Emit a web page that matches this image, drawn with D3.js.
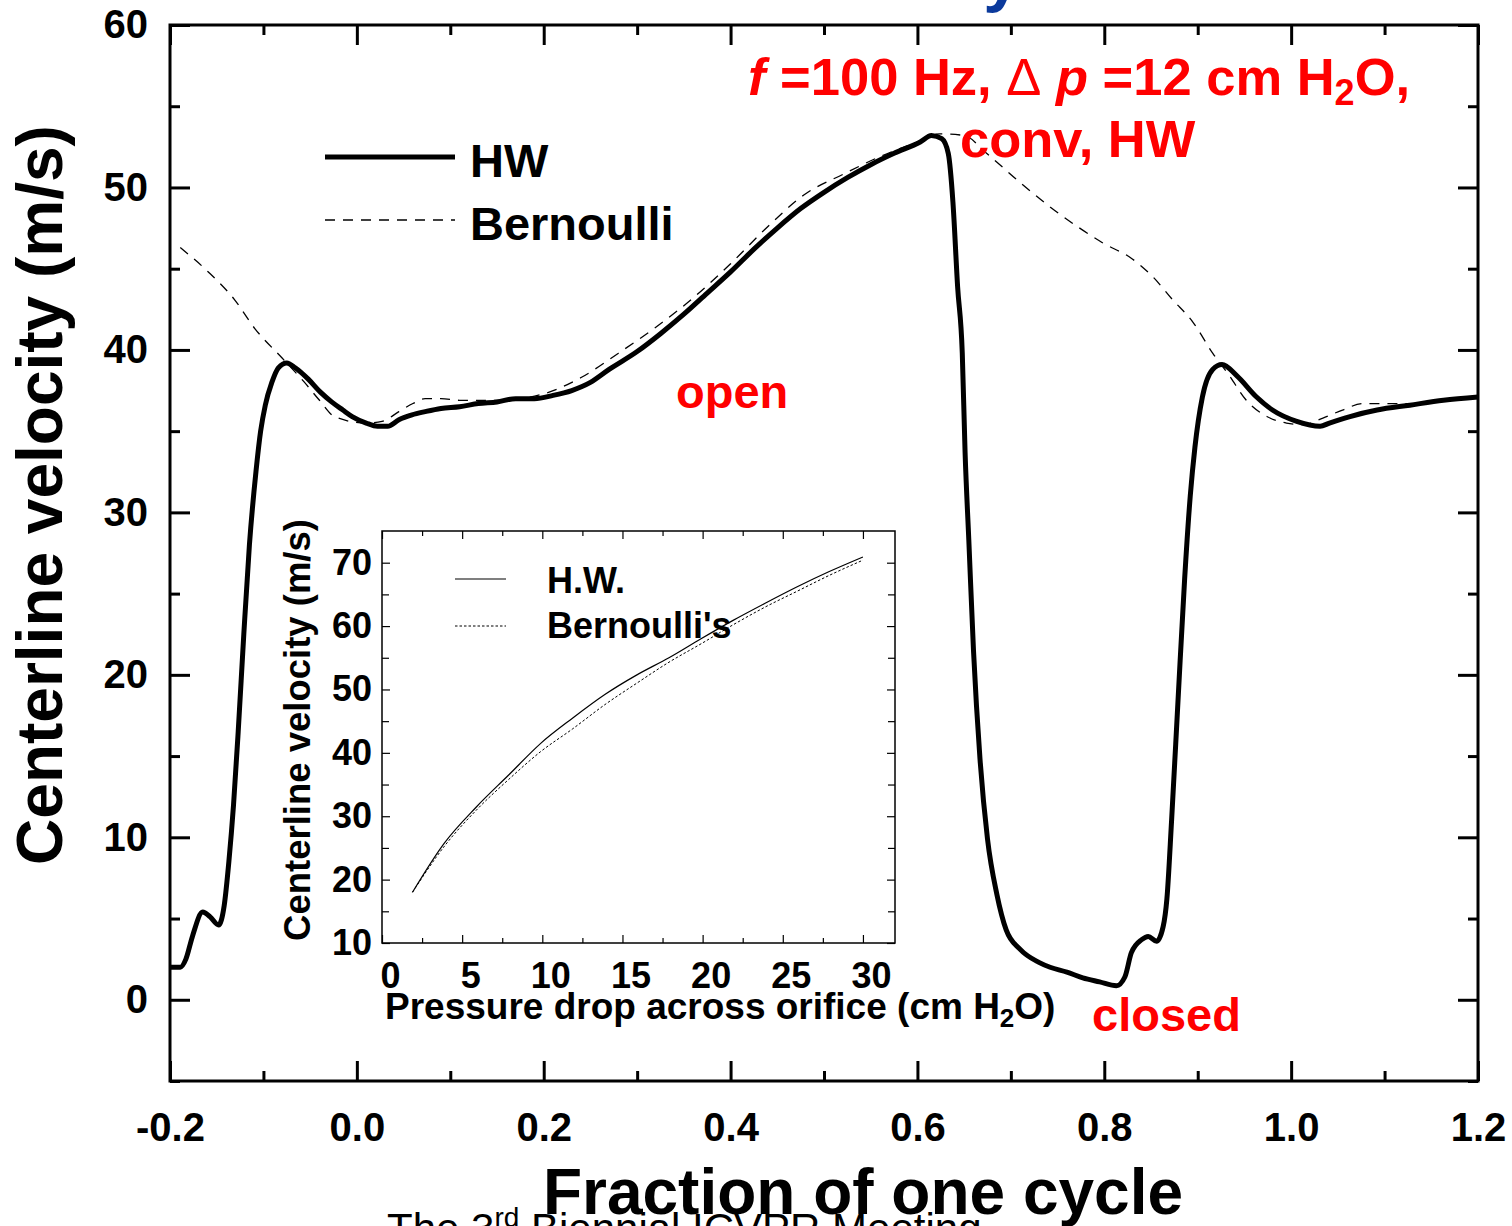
<!DOCTYPE html>
<html lang="en">
<head>
  <meta charset="UTF-8">
  <title>Centerline velocity</title>
  <script src="https://d3js.org/d3.v7.min.js"></script>
  <style>
    body { margin: 0; background: #fff; }
    svg { display: block; font-family: "Liberation Sans", Arial, sans-serif; }
    .bold { font-weight: bold; }
  </style>
</head>
<body>
<div class="main"></div>
<script>
  // main chart: fraction of cycle vs centerline velocity (m/s)
  var hwPoints = [
    [-0.2, 2.0], [-0.189, 2.0], [-0.183, 2.5], [-0.176, 3.9], [-0.165, 5.4], [-0.157, 5.1],
    [-0.148, 4.6], [-0.142, 5.8], [-0.137, 8.5], [-0.132, 12.0], [-0.127, 16.5], [-0.121, 22.5],
    [-0.115, 28.0], [-0.108, 32.5], [-0.103, 35.0], [-0.098, 36.6], [-0.091, 38.0], [-0.084, 38.9],
    [-0.075, 39.2], [-0.066, 38.9], [-0.052, 38.2], [-0.039, 37.4], [-0.027, 36.8], [-0.015, 36.3],
    [-0.005, 35.9], [0.010, 35.5], [0.022, 35.3], [0.033, 35.3], [0.045, 35.7], [0.059, 36.0],
    [0.073, 36.2], [0.09, 36.4], [0.11, 36.5], [0.13, 36.7], [0.15, 36.8], [0.17, 37.0],
    [0.19, 37.0], [0.21, 37.2], [0.23, 37.5], [0.25, 38.0], [0.27, 38.8], [0.30, 39.9],
    [0.325, 41.0], [0.35, 42.2], [0.375, 43.5], [0.40, 44.8], [0.425, 46.2], [0.45, 47.5],
    [0.475, 48.7], [0.50, 49.7], [0.525, 50.6], [0.55, 51.4], [0.575, 52.1], [0.603, 52.8],
    [0.615, 53.2], [0.626, 53.0], [0.633, 52.1], [0.638, 49.1], [0.643, 43.9], [0.648, 39.8],
    [0.651, 33.7], [0.655, 28.3], [0.660, 21.5], [0.667, 14.8], [0.675, 9.9], [0.685, 6.5],
    [0.695, 4.3], [0.710, 3.1], [0.730, 2.3], [0.742, 2.0], [0.760, 1.7], [0.777, 1.35],
    [0.795, 1.1], [0.813, 0.86], [0.822, 1.4], [0.829, 2.9], [0.840, 3.7], [0.847, 3.9],
    [0.856, 3.6], [0.863, 4.5], [0.867, 6.2], [0.872, 11.0], [0.879, 18.5], [0.886, 25.9],
    [0.892, 31.0], [0.897, 34.0], [0.905, 37.1], [0.916, 38.8], [0.926, 39.1], [0.942, 38.4],
    [0.963, 37.1], [0.980, 36.3], [1.006, 35.6], [1.031, 35.3], [1.041, 35.5], [1.063, 35.9],
    [1.092, 36.3], [1.127, 36.6], [1.163, 36.9], [1.2, 37.1]
  ];

  var bernoulliPoints = [
    [-0.189, 46.3], [-0.159, 44.8], [-0.131, 43.1], [-0.109, 41.3], [-0.080, 39.5], [-0.056, 38.0],
    [-0.040, 36.9], [-0.024, 35.9], [0.009, 35.5], [0.027, 35.6], [0.045, 36.2], [0.060, 36.7],
    [0.073, 37.0], [0.09, 37.0], [0.11, 36.9], [0.15, 36.9], [0.20, 37.3], [0.24, 38.3],
    [0.28, 39.8], [0.32, 41.4], [0.36, 43.2], [0.40, 45.3], [0.44, 47.6], [0.48, 49.6],
    [0.52, 50.8], [0.56, 51.9], [0.60, 52.8], [0.624, 53.3], [0.65, 53.2], [0.674, 52.1],
    [0.710, 50.3], [0.742, 48.8], [0.771, 47.6], [0.798, 46.6], [0.830, 45.6], [0.852, 44.5],
    [0.873, 43.1], [0.895, 41.7], [0.916, 39.8], [0.934, 38.4], [0.952, 36.9], [0.974, 35.9],
    [0.995, 35.5], [1.013, 35.4], [1.034, 35.8], [1.055, 36.3], [1.077, 36.7], [1.095, 36.7],
    [1.13, 36.7], [1.163, 36.9], [1.2, 37.2]
  ];

  var xMajorTicks = [-0.2, 0.0, 0.2, 0.4, 0.6, 0.8, 1.0, 1.2];
  var xMinorTicks = [-0.1, 0.1, 0.3, 0.5, 0.7, 0.9, 1.1];
  var yMajorTicks = [0, 10, 20, 30, 40, 50, 60];
  var yMinorTicks = [-5, 5, 15, 25, 35, 45, 55];

  // inset: pressure drop (cm H2O) vs centerline velocity
  var insetHwPoints = [
    [1.9, 18.0], [3.9, 25.8], [5.9, 31.5], [7.9, 36.5], [9.9, 41.5], [11.9, 45.5], [13.9, 49.2],
    [15.9, 52.3], [17.9, 55.0], [19.9, 58.0], [21.9, 60.9], [23.9, 63.6], [25.9, 66.2],
    [27.9, 68.6], [30.0, 70.9]
  ];
  var insetBernoulliPoints = [
    [1.9, 18.0], [3.9, 25.3], [5.9, 31.0], [7.9, 35.8], [9.9, 40.2], [11.9, 43.8], [13.9, 47.6],
    [15.9, 51.0], [17.9, 54.3], [19.9, 57.2], [21.9, 60.2], [23.9, 63.0], [25.9, 65.5],
    [27.9, 68.0], [30.0, 70.4]
  ];
  var insetXMajor = [0, 5, 10, 15, 20, 25, 30];
  var insetXMinor = [2.5, 7.5, 12.5, 17.5, 22.5, 27.5];
  var insetYMajor = [10, 20, 30, 40, 50, 60, 70];
  var insetYMinor = [15, 25, 35, 45, 55, 65];

  let width = 1512;
  let height = 1226;
  let svg = d3.select(".main").append("svg").attr("width", width).attr("height", height);

  let pL = 170, pR = 1478, pT = 25, pB = 1081;
  let x = d3.scaleLinear().domain([-0.2, 1.2]).range([pL, pR]);
  let y = d3.scaleLinear().domain([-5, 60]).range([pB, pT]);

  // cut-off title and footer
  svg.append("text").attr("x", 1021).attr("y", -1).attr("text-anchor", "end")
    .attr("class", "bold").style("font-size", "68px").style("fill", "#0b3a9c").text("Velocity");
  let foot = svg.append("text").attr("x", 387).attr("y", 1243).style("font-size", "42px").style("fill", "#000");
  foot.append("tspan").text("The 3");
  foot.append("tspan").attr("dy", -16).style("font-size", "28px").text("rd");
  foot.append("tspan").attr("dy", 16).text(" Biennial ICVPR Meeting");

  // axes, ticks inward
  function noLabel() { return ""; }
  svg.append("g").attr("transform", `translate(0,${pB})`)
    .call(d3.axisBottom(x).tickValues(xMajorTicks).tickSize(-20).tickPadding(32).tickFormat(d => d.toFixed(1)));
  svg.append("g").attr("transform", `translate(0,${pB})`)
    .call(d3.axisBottom(x).tickValues(xMinorTicks).tickSize(-10).tickFormat(noLabel));
  svg.append("g").attr("transform", `translate(0,${pT})`)
    .call(d3.axisTop(x).tickValues(xMajorTicks).tickSize(-20).tickFormat(noLabel));
  svg.append("g").attr("transform", `translate(0,${pT})`)
    .call(d3.axisTop(x).tickValues(xMinorTicks).tickSize(-10).tickFormat(noLabel));
  svg.append("g").attr("transform", `translate(${pL},0)`)
    .call(d3.axisLeft(y).tickValues(yMajorTicks).tickSize(-20).tickPadding(22));
  svg.append("g").attr("transform", `translate(${pL},0)`)
    .call(d3.axisLeft(y).tickValues(yMinorTicks).tickSize(-10).tickFormat(noLabel));
  svg.append("g").attr("transform", `translate(${pR},0)`)
    .call(d3.axisRight(y).tickValues(yMajorTicks).tickSize(-20).tickFormat(noLabel));
  svg.append("g").attr("transform", `translate(${pR},0)`)
    .call(d3.axisRight(y).tickValues(yMinorTicks).tickSize(-10).tickFormat(noLabel));

  svg.selectAll(".domain").remove();
  svg.selectAll(".tick line").style("stroke", "#000").style("stroke-width", 3);
  svg.selectAll(".tick text").attr("class", "bold").style("font-size", "40px").style("fill", "#000");

  svg.append("rect").attr("x", pL).attr("y", pT).attr("width", pR - pL).attr("height", pB - pT)
    .style("fill", "none").style("stroke", "#000").style("stroke-width", 3);

  // curves
  let line = d3.line().x(d => x(d[0])).y(d => y(d[1])).curve(d3.curveMonotoneX);
  svg.append("path").attr("d", line(bernoulliPoints))
    .style("fill", "none").style("stroke", "#000").style("stroke-width", 1.3).style("stroke-dasharray", "10,8");
  svg.append("path").attr("d", line(hwPoints))
    .style("fill", "none").style("stroke", "#000").style("stroke-width", 5).style("stroke-linejoin", "round");

  // axis titles
  svg.append("text").attr("x", 863).attr("y", 1214).attr("text-anchor", "middle")
    .attr("class", "bold").style("font-size", "64px").text("Fraction of one cycle");
  svg.append("text").attr("transform", "translate(62,495) rotate(-90)").attr("text-anchor", "middle")
    .attr("class", "bold").style("font-size", "64px").text("Centerline velocity (m/s)");

  // legend
  svg.append("line").attr("x1", 325).attr("x2", 455).attr("y1", 157).attr("y2", 157)
    .style("stroke", "#000").style("stroke-width", 5);
  svg.append("text").attr("x", 470).attr("y", 177).attr("class", "bold").style("font-size", "47px").text("HW");
  svg.append("line").attr("x1", 325).attr("x2", 455).attr("y1", 220).attr("y2", 220)
    .style("stroke", "#000").style("stroke-width", 1.3).style("stroke-dasharray", "10,8");
  svg.append("text").attr("x", 470).attr("y", 240).attr("class", "bold").style("font-size", "47px").text("Bernoulli");

  // red annotations
  let cond = svg.append("text").attr("x", 748).attr("y", 95).attr("class", "bold")
    .style("font-size", "52.5px").style("fill", "#ff0000");
  cond.append("tspan").style("font-style", "italic").text("f");
  cond.append("tspan").text(" =100 Hz, ");
  cond.append("tspan").style("font-weight", "normal").text("\u0394");
  cond.append("tspan").style("font-style", "italic").text(" p");
  cond.append("tspan").text(" =12 cm H");
  cond.append("tspan").attr("dy", 10).style("font-size", "36px").text("2");
  cond.append("tspan").attr("dy", -10).text("O,");
  svg.append("text").attr("x", 960).attr("y", 157).attr("class", "bold")
    .style("font-size", "52.5px").style("fill", "#ff0000").text("conv, HW");
  svg.append("text").attr("x", 676).attr("y", 408).attr("class", "bold")
    .style("font-size", "47px").style("fill", "#ff0000").text("open");
  svg.append("text").attr("x", 1092).attr("y", 1031).attr("class", "bold")
    .style("font-size", "47px").style("fill", "#ff0000").text("closed");

  // ---- inset ----
  let iL = 382, iR = 895, iT = 531, iB = 943;
  let ix = d3.scaleLinear().domain([0, 32]).range([iL, iR]);
  let iy = d3.scaleLinear().domain([10, 75]).range([iB, iT]);
  let inset = svg.append("g").attr("class", "inset");

  inset.append("rect").attr("x", iL).attr("y", iT).attr("width", iR - iL).attr("height", iB - iT)
    .style("fill", "#fff").style("stroke", "none");

  let ixAxis = inset.append("g").attr("transform", `translate(0,${iB})`)
    .call(d3.axisBottom(ix).tickValues(insetXMajor).tickSize(-8).tickPadding(19));
  inset.append("g").attr("transform", `translate(0,${iB})`)
    .call(d3.axisBottom(ix).tickValues(insetXMinor).tickSize(-5).tickFormat(noLabel));
  inset.append("g").attr("transform", `translate(0,${iT})`)
    .call(d3.axisTop(ix).tickValues(insetXMajor).tickSize(-8).tickFormat(noLabel));
  inset.append("g").attr("transform", `translate(0,${iT})`)
    .call(d3.axisTop(ix).tickValues(insetXMinor).tickSize(-5).tickFormat(noLabel));
  inset.append("g").attr("transform", `translate(${iL},0)`)
    .call(d3.axisLeft(iy).tickValues(insetYMajor).tickSize(-8).tickPadding(10));
  inset.append("g").attr("transform", `translate(${iL},0)`)
    .call(d3.axisLeft(iy).tickValues(insetYMinor).tickSize(-7).tickFormat(noLabel));
  inset.append("g").attr("transform", `translate(${iR},0)`)
    .call(d3.axisRight(iy).tickValues(insetYMajor).tickSize(-8).tickFormat(noLabel));
  inset.append("g").attr("transform", `translate(${iR},0)`)
    .call(d3.axisRight(iy).tickValues(insetYMinor).tickSize(-7).tickFormat(noLabel));

  inset.selectAll(".domain").remove();
  inset.selectAll(".tick line").style("stroke", "#000").style("stroke-width", 1.2);
  inset.selectAll(".tick text").attr("class", "bold").style("font-size", "36px").style("fill", "#000");
  ixAxis.selectAll(".tick text").attr("dx", 8);

  inset.append("rect").attr("x", iL).attr("y", iT).attr("width", iR - iL).attr("height", iB - iT)
    .style("fill", "none").style("stroke", "#000").style("stroke-width", 1.5);

  let iline = d3.line().x(d => ix(d[0])).y(d => iy(d[1])).curve(d3.curveMonotoneX);
  inset.append("path").attr("d", iline(insetHwPoints))
    .style("fill", "none").style("stroke", "#000").style("stroke-width", 1.2);
  inset.append("path").attr("d", iline(insetBernoulliPoints))
    .style("fill", "none").style("stroke", "#000").style("stroke-width", 1).style("stroke-dasharray", "2.5,2");

  // inset legend
  inset.append("line").attr("x1", 455).attr("x2", 506).attr("y1", 579).attr("y2", 579)
    .style("stroke", "#000").style("stroke-width", 1.2);
  inset.append("text").attr("x", 547).attr("y", 593).attr("class", "bold").style("font-size", "36px").text("H.W.");
  inset.append("line").attr("x1", 455).attr("x2", 506).attr("y1", 626).attr("y2", 626)
    .style("stroke", "#000").style("stroke-width", 1).style("stroke-dasharray", "2.5,2");
  inset.append("text").attr("x", 547).attr("y", 638).attr("class", "bold").style("font-size", "36px").text("Bernoulli's");

  // inset axis titles
  let ixt = inset.append("text").attr("x", 385).attr("y", 1019).attr("class", "bold").style("font-size", "37px");
  ixt.append("tspan").text("Pressure drop across orifice (cm H");
  ixt.append("tspan").attr("dy", 8).style("font-size", "26px").text("2");
  ixt.append("tspan").attr("dy", -8).text("O)");
  inset.append("text").attr("transform", "translate(310,730) rotate(-90)").attr("text-anchor", "middle")
    .attr("class", "bold").style("font-size", "36.5px").text("Centerline velocity (m/s)");
</script>
</body>
</html>
